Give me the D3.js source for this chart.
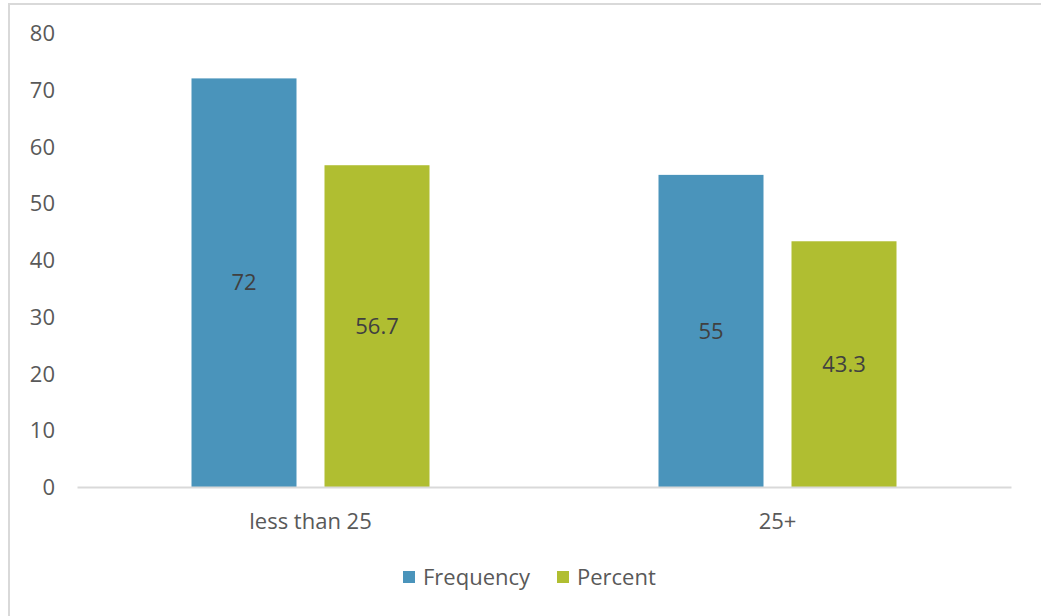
<!DOCTYPE html>
<html>
<head>
<meta charset="utf-8">
<script src="https://cdn.jsdelivr.net/npm/d3@7"></script>
<style>
  html, body { margin: 0; padding: 0; background: #fff; }
  svg { display: block; }
  text { font-family: "Open Sans", sans-serif; }
</style>
</head>
<body>
<svg id="chart" width="1041" height="616"></svg>
<script>
// Age groups and the two series plotted for each
const categories = ["less than 25", "25+"];
const seriesNames = ["Frequency", "Percent"];
const frequency = [72, 55];
const percent = [56.7, 43.3];
const yTicks = [0, 10, 20, 30, 40, 50, 60, 70, 80];
const colors = ["#4A94BB", "#B0BE31"];

const svg = d3.select("#chart");
const W = 1041, H = 616;
const FONT = "22px";

// Chart frame (left and top edges are visible)
svg.append("rect")
  .attr("x", 9).attr("y", 4)
  .attr("width", W + 10).attr("height", H + 10)
  .attr("fill", "#fff")
  .attr("stroke", "#d9d9d9")
  .attr("stroke-width", 2);

const plot = { left: 77, right: 1011, top: 33, bottom: 487 };

const x0 = d3.scaleBand()
  .domain(categories)
  .range([plot.left, plot.right])
  .paddingInner(0).paddingOuter(0);

const x1 = d3.scaleBand()
  .domain(seriesNames)
  .range([0, 238])
  .paddingInner(28 / 133)
  .paddingOuter(0);

const y = d3.scaleLinear()
  .domain([0, 80])
  .range([plot.bottom, plot.top]);

const rows = categories.map((c, i) => ({
  category: c,
  values: [
    { series: seriesNames[0], value: frequency[i] },
    { series: seriesNames[1], value: percent[i] }
  ]
}));

// Y axis tick labels (no axis line)
const yAxis = d3.axisLeft(y).tickValues(yTicks).tickSize(0).tickPadding(0);
const yg = svg.append("g")
  .attr("transform", `translate(55,0)`)
  .call(yAxis);
yg.select(".domain").remove();
yg.selectAll("text")
  .attr("fill", "#595959")
  .style("font-size", FONT)
  .attr("dy", "0.35em");

// Bars
const groups = svg.append("g").selectAll("g")
  .data(rows)
  .join("g")
  .attr("transform", d => `translate(${x0(d.category) + x0.bandwidth() / 2 - 119},0)`);

groups.selectAll("rect")
  .data(d => d.values)
  .join("rect")
  .attr("x", d => x1(d.series))
  .attr("y", d => y(d.value))
  .attr("width", x1.bandwidth())
  .attr("height", d => y(0) - y(d.value))
  .attr("fill", (d, i) => colors[i]);

// Value labels centred in each bar
groups.selectAll("text.value")
  .data(d => d.values)
  .join("text")
  .attr("class", "value")
  .attr("x", d => x1(d.series) + x1.bandwidth() / 2)
  .attr("y", d => (y(d.value) + y(0)) / 2)
  .attr("dy", "0.35em")
  .attr("text-anchor", "middle")
  .attr("fill", "#404040")
  .style("font-size", FONT)
  .text(d => d.value);

// X axis baseline and category labels
const xAxis = d3.axisBottom(x0).tickSize(0).tickPadding(0);
const xg = svg.append("g")
  .attr("transform", `translate(0,${plot.bottom})`)
  .call(xAxis);
xg.select(".domain")
  .attr("stroke", "#d9d9d9")
  .attr("stroke-width", 2);
xg.selectAll("text")
  .attr("fill", "#595959")
  .style("font-size", FONT)
  .attr("y", 34)
  .attr("dy", "0.35em");

// Legend
const legendItems = [
  { name: seriesNames[0], color: colors[0], x: 403 },
  { name: seriesNames[1], color: colors[1], x: 557 }
];
const legend = svg.append("g");
legendItems.forEach(it => {
  legend.append("rect")
    .attr("x", it.x).attr("y", 571)
    .attr("width", 12).attr("height", 12)
    .attr("fill", it.color);
  legend.append("text")
    .attr("x", it.x + 20).attr("y", 577)
    .attr("dy", "0.35em")
    .attr("fill", "#595959")
    .style("font-size", FONT)
    .text(it.name);
});
</script>
</body>
</html>
